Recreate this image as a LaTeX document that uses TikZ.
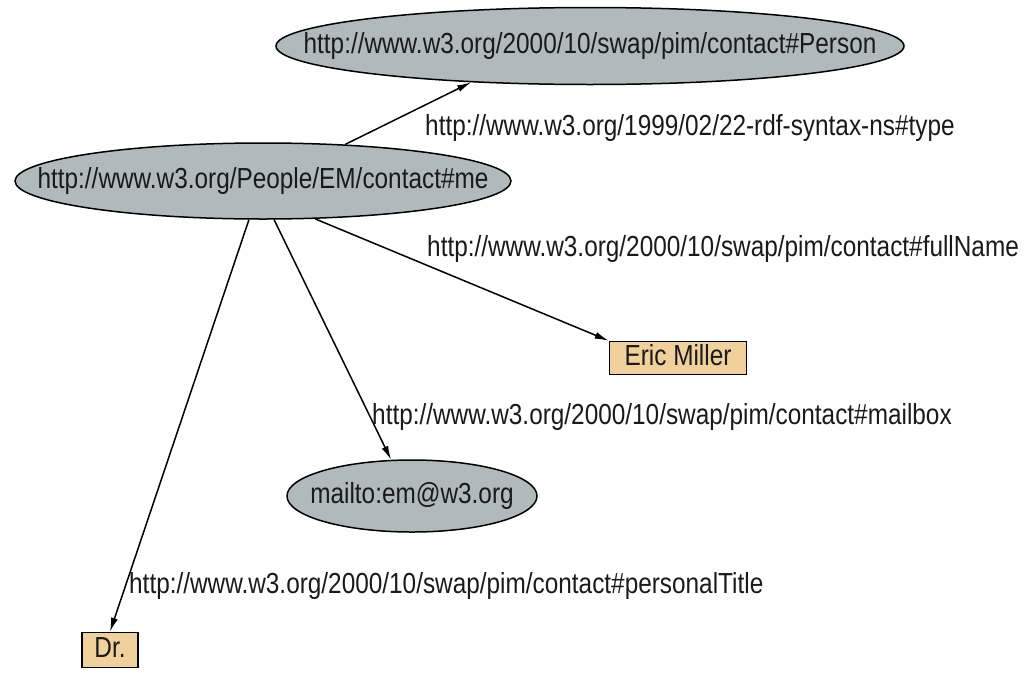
\documentclass[tikz,border=0pt]{standalone}
\usepackage{fontspec}
\newfontfamily\urlfont{Liberation Sans}[FakeStretch=0.84]
\usetikzlibrary{arrows.meta,shapes.geometric}
\definecolor{resFill}{HTML}{B0BABC}
\definecolor{litFill}{HTML}{F0D09B}
\definecolor{txtGray}{HTML}{1A1A1A}

\begin{document}
\begin{tikzpicture}[x=1pt,y=-1pt,>={Latex[length=14pt,width=7pt]},
  res/.style={ellipse,draw=black,fill=resFill,line width=1.5pt,inner xsep=-150pt,inner ysep=0pt,text=txtGray,
    font=\urlfont\fontsize{29}{34}\selectfont,text height=21pt,text depth=6pt},
  lit/.style={rectangle,draw=black,fill=litFill,line width=1.5pt,inner sep=0pt,text=txtGray,
    font=\urlfont\fontsize{29}{34}\selectfont,text height=21pt,text depth=6pt},
  prop/.style={anchor=base west,inner sep=0pt,text=txtGray,font=\urlfont\fontsize{29}{34}\selectfont},
  link/.style={->,line width=1.5pt}]
  \useasboundingbox (0,0) rectangle (1024,672);
  % resources
  \node[res,minimum width=628pt,minimum height=77pt] (person) at (590,46) {http://www.w3.org/2000/10/swap/pim/contact\#Person};
  \node[res,minimum width=496pt,minimum height=76pt] (me) at (263,181) {http://www.w3.org/People/EM/contact\#me};
  \node[res,minimum width=250pt,minimum height=72pt] (mail) at (412,496) {mailto:em@w3.org};
  % literals
  \node[lit,minimum width=137pt,minimum height=33pt] (name) at (678,358) {Eric Miller};
  \node[lit,minimum width=56pt,minimum height=35pt] (title) at (110,650) {Dr.};
  % properties
  \draw[link] (me.24.6) -- (person.197.9);
  \draw[link] (me.-36) -- (name.north west);
  \draw[link] (me.-74) -- (mail.120);
  \draw[link] (me.-110) -- (title.north);
  \node[prop] (ptype) at (425,135) {http://www.w3.org/1999/02/22-rdf-syntax-ns\#type};
  \node[prop] (pname) at (427,256) {http://www.w3.org/2000/10/swap/pim/contact\#fullName};
  \node[prop] (pmail) at (372,424) {http://www.w3.org/2000/10/swap/pim/contact\#mailbox};
  \node[prop] (ptitle) at (129,593) {http://www.w3.org/2000/10/swap/pim/contact\#personalTitle};
\end{tikzpicture}
\end{document}
